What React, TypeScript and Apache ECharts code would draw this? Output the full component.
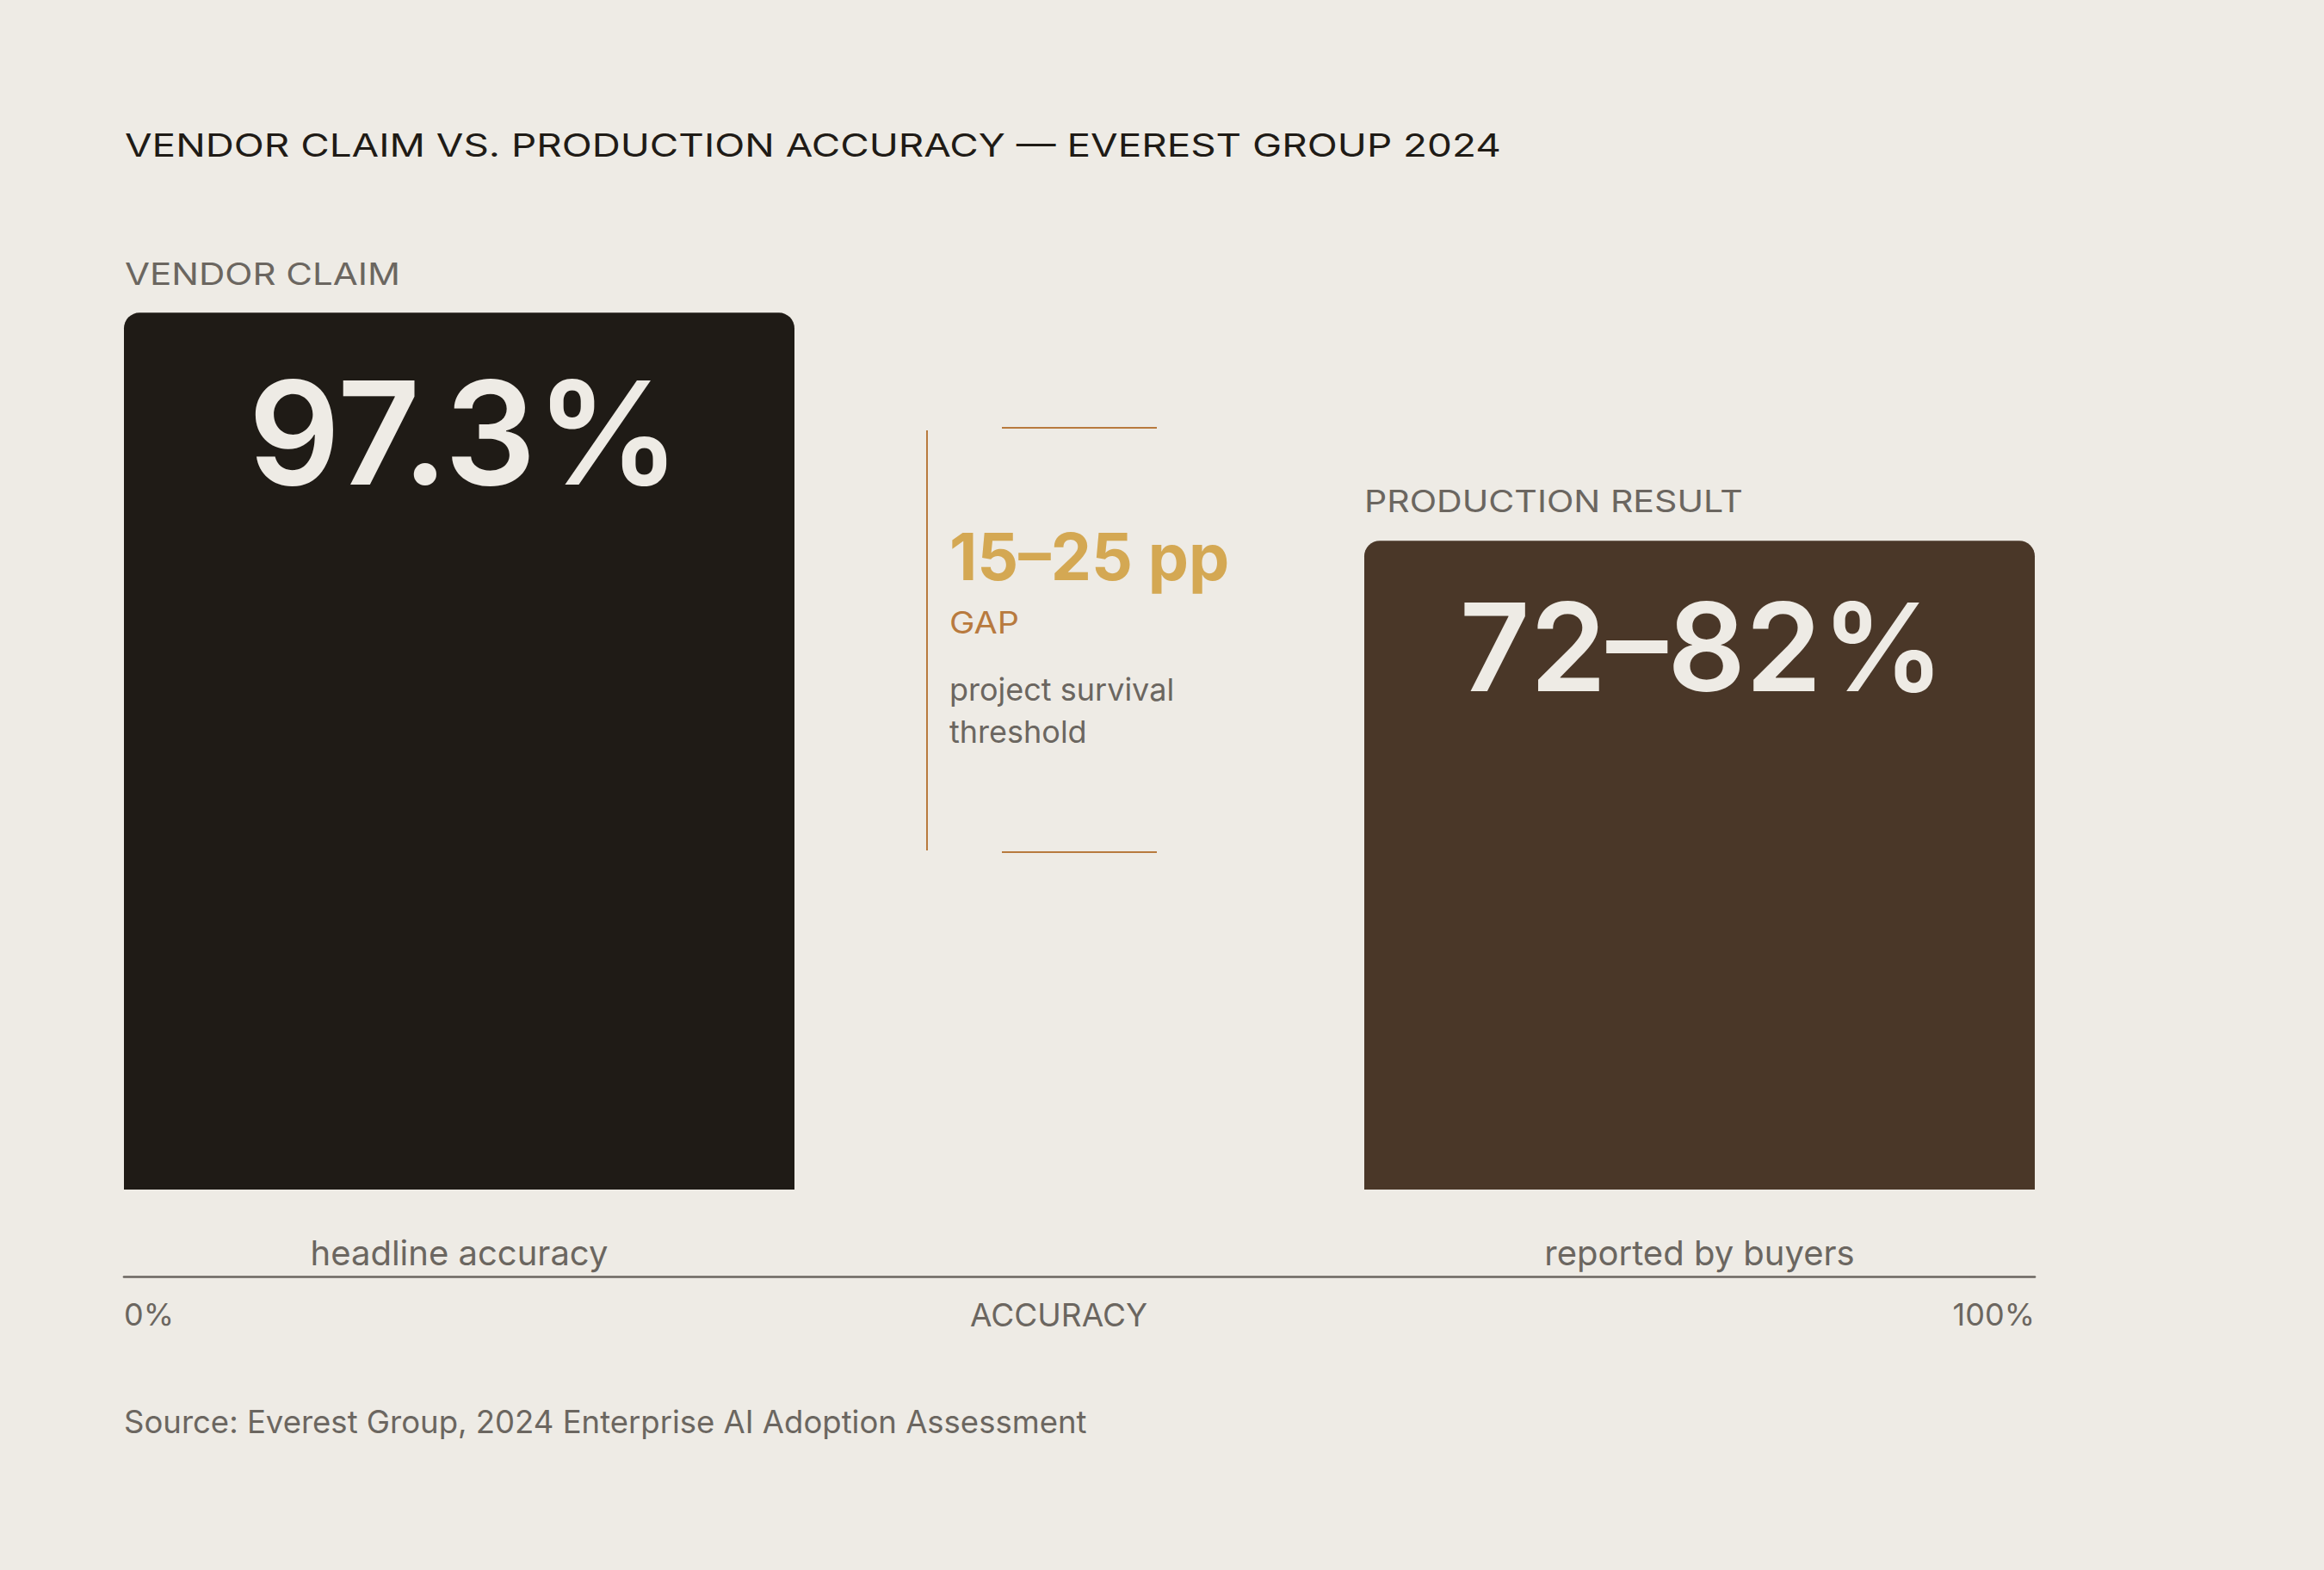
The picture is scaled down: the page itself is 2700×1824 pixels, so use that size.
import React, { useEffect, useRef } from "react";
import * as echarts from "echarts";

// ---------- data ----------
const categories = ["headline accuracy", "reported by buyers"];
const groupLabels = ["VENDOR CLAIM", "PRODUCTION RESULT"];
const values = [97.3, 72];
const valueLabels = ["97.3%", "72–82%"];
const axisTicks = [0, 100];
const axisName = "ACCURACY";
const gapValue = "15–25 pp";
const gapLabel = "GAP";
const gapNote = ["project survival", "threshold"];
const titleText = "VENDOR CLAIM VS. PRODUCTION ACCURACY — EVEREST GROUP 2024";
const sourceText = "Source: Everest Group, 2024 Enterprise AI Adoption Assessment";

// ---------- style ----------
const BG = "#eeebe5";
const INK = "#1f1b16";
const BROWN = "#4a3728";
const LIGHT = "#eeebe5";
const GRAY = "#6b6660";
const GOLD = "#d4a853";
const COPPER = "#b87a3e";
const FONT = "Inter, 'Noto Sans', sans-serif";

function measure(text: string, size: number, weight: number | string = 400) {
  const ctx = document.createElement("canvas").getContext("2d")!;
  ctx.font = `${weight} ${size}px Inter`;
  return ctx.measureText(text).width;
}

function spacedText(
  text: string,
  x: number,
  y: number,
  size: number,
  width: number,
  fill: string,
  weight: number | string = 400,
  align: string = "left"
) {
  const w = measure(text, size, weight);
  return {
    type: "text",
    x,
    y,
    scaleX: width / w,
    style: {
      text,
      fill,
      fontSize: size,
      fontFamily: FONT,
      fontWeight: weight,
      align,
      verticalAlign: "middle",
    },
  };
}

function plainText(
  text: string,
  x: number,
  y: number,
  size: number,
  fill: string,
  weight: number | string = 400
) {
  return {
    type: "text",
    x,
    y,
    style: {
      text,
      fill,
      fontSize: size,
      fontFamily: FONT,
      fontWeight: weight,
      align: "left",
      verticalAlign: "middle",
    },
  };
}

export default function App() {
  const ref = useRef<HTMLDivElement>(null);

  useEffect(() => {
    document.body.style.margin = "0";
    document.body.style.background = BG;
    document.body.style.overflow = "hidden";
    const chart = echarts.init(ref.current!, null, { renderer: "svg" });

    const barGridTop = 335;
    const barGridH = 1047;
    const barW = 779;
    const leftX = 144;
    const rightX = 1585;
    const axisY = 1483;

    const catAxis = (i: number) => ({
      type: "category",
      gridIndex: i,
      data: [categories[i]],
      axisLine: { show: false },
      axisTick: { show: false },
      axisLabel: {
        color: GRAY,
        fontSize: 40,
        lineHeight: 40,
        fontFamily: FONT,
        margin: 53,
      },
    });
    const valAxis = (i: number) => ({
      type: "value",
      gridIndex: i,
      min: 0,
      max: 100,
      show: false,
    });

    const option: any = {
      animation: false,
      backgroundColor: BG,
      grid: [
        { left: leftX, top: barGridTop, width: barW, height: barGridH, outerBoundsMode: "none" },
        { left: rightX, top: barGridTop, width: barW, height: barGridH, outerBoundsMode: "none" },
        { left: leftX, top: axisY - 10, width: 2220, height: 10, outerBoundsMode: "none" },
      ],
      xAxis: [
        catAxis(0),
        catAxis(1),
        {
          type: "value",
          gridIndex: 2,
          min: axisTicks[0],
          max: axisTicks[1],
          interval: axisTicks[1] - axisTicks[0],
          axisLine: { show: true, lineStyle: { color: GRAY, width: 2.7 } },
          axisTick: { show: false },
          splitLine: { show: false },
          axisLabel: {
            color: GRAY,
            fontSize: 36,
            lineHeight: 36,
            fontFamily: FONT,
            margin: 26,
            formatter: "{value}%",
            showMinLabel: true,
            showMaxLabel: true,
            alignMinLabel: "left",
            alignMaxLabel: "right",
          },
          name: axisName,
          nameLocation: "middle",
          nameGap: 26,
          nameMoveOverlap: false,
          nameTextStyle: {
            color: GRAY,
            fontSize: 37,
            lineHeight: 36,
            fontFamily: FONT,
            verticalAlign: "top",
            padding: [0, 48, 0, 0],
          },
        },
      ],
      yAxis: [valAxis(0), valAxis(1), { type: "value", gridIndex: 2, show: false }],
      series: [0, 1].map((i) => ({
        type: "bar",
        xAxisIndex: i,
        yAxisIndex: i,
        data: [values[i]],
        barWidth: "100%",
        itemStyle: {
          color: i === 0 ? INK : BROWN,
          borderRadius: [18, 18, 0, 0],
        },
        label: {
          show: true,
          position: "insideTop",
          distance: i === 0 ? 55 : 52,
          formatter: () => valueLabels[i],
          color: LIGHT,
          fontFamily: FONT,
          fontWeight: 600,
          fontSize: i === 0 ? 167 : 142,
          lineHeight: i === 0 ? 167 : 142,
          padding: i === 0 ? [0, 0, 0, 12] : [0, 0, 0, 6],
        },
      })),
    };

    chart.setOption(option);

    const top0 = chart.convertToPixel({ seriesIndex: 0 }, [0, values[0]])[1];
    const top1 = chart.convertToPixel({ seriesIndex: 1 }, [0, values[1]])[1];

    const graphic: any[] = [
      spacedText(titleText, 145, 168.5, 37, 1599, INK),
      spacedText(groupLabels[0], leftX + 1, top0 - 46, 36, 320, GRAY),
      spacedText(groupLabels[1], rightX, top1 - 46, 36, 440, GRAY),
      // gap annotation
      {
        type: "line",
        shape: { x1: 1077, y1: 500, x2: 1077, y2: 988 },
        style: { stroke: COPPER, lineWidth: 2 },
      },
      {
        type: "line",
        shape: { x1: 1164, y1: 497, x2: 1344, y2: 497 },
        style: { stroke: COPPER, lineWidth: 2 },
      },
      {
        type: "line",
        shape: { x1: 1164, y1: 990, x2: 1344, y2: 990 },
        style: { stroke: COPPER, lineWidth: 2 },
      },
      plainText(gapValue, 1103, 646, 75, GOLD, 700),
      spacedText(gapLabel, 1103, 723.5, 35, 81, COPPER),
      plainText(gapNote[0], 1103, 801, 36, GRAY),
      plainText(gapNote[1], 1103, 850, 36, GRAY),
      plainText(sourceText, 144, 1652, 36.5, GRAY),
    ];

    chart.setOption({ graphic });

    return () => chart.dispose();
  }, []);

  return <div ref={ref} style={{ width: 2700, height: 1824 }} />;
}
